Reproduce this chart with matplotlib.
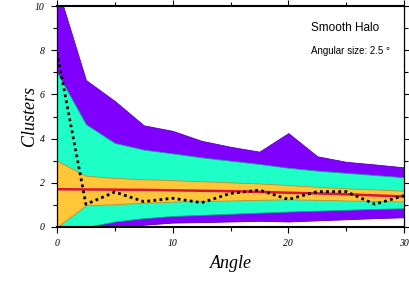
import matplotlib
matplotlib.use("Agg")
import matplotlib.pyplot as plt
from matplotlib.ticker import MultipleLocator

# angle grid and bands
angle = [0, 2.5, 5, 7.5, 10, 12.5, 15, 17.5, 20, 22.5, 25, 27.5, 30]
outer_hi = [10.9, 6.65, 5.7, 4.6, 4.35, 3.9, 3.63, 3.41, 4.25, 3.2, 2.95, 2.83, 2.7]
outer_lo = [0.0, 0.0, 0.0, 0.1, 0.2, 0.22, 0.25, 0.28, 0.25, 0.3, 0.35, 0.4, 0.44]
mid_hi = [7.0, 4.65, 3.8, 3.5, 3.33, 3.15, 3.0, 2.85, 2.68, 2.55, 2.45, 2.35, 2.25]
mid_lo = [0.0, 0.0, 0.25, 0.4, 0.5, 0.55, 0.6, 0.65, 0.7, 0.74, 0.78, 0.82, 0.85]
inner_hi = [3.0, 2.32, 2.22, 2.16, 2.12, 2.07, 2.02, 1.97, 1.9, 1.82, 1.75, 1.7, 1.64]
inner_lo = [0.0, 0.98, 1.03, 1.1, 1.15, 1.18, 1.2, 1.23, 1.25, 1.23, 1.2, 1.18, 1.15]
median = [1.71, 1.70, 1.69, 1.68, 1.66, 1.64, 1.62, 1.59, 1.55, 1.52, 1.48, 1.43, 1.38]
measured = [7.9, 1.03, 1.58, 1.15, 1.3, 1.1, 1.52, 1.67, 1.25, 1.6, 1.6, 1.03, 1.42]

serif_it = dict(family=['Liberation Serif', 'DejaVu Serif'], style='italic')

fig = plt.figure(figsize=(4.09, 3.0), dpi=100)
ax = fig.add_axes([57 / 409, 1 - 227 / 300, 347 / 409, 221 / 300])

ax.fill_between(angle, outer_lo, outer_hi, facecolor='#8000ff', edgecolor='#5a00b4', lw=0.6)
ax.fill_between(angle, mid_lo, mid_hi, facecolor='#1effc8', edgecolor='#15a88a', lw=0.6)
ax.fill_between(angle, inner_lo, inner_hi, facecolor='#ffc63a', edgecolor='#b8902a', lw=0.6)
ax.plot(angle, median, color='#dc143c', lw=1.8)
ax.plot(angle, measured, color='black', lw=2.0, ls=(0, (1, 1.2)))

ax.set_xlim(0, 30)
ax.set_ylim(0, 10)

ax.xaxis.set_major_locator(MultipleLocator(10))
ax.xaxis.set_minor_locator(MultipleLocator(5))
ax.yaxis.set_major_locator(MultipleLocator(2))
ax.yaxis.set_minor_locator(MultipleLocator(1))
ax.tick_params(which='both', direction='out', top=True, right=True, width=0.8)
ax.tick_params(which='major', length=4, pad=5)
ax.tick_params(which='minor', length=3)
for lab in ax.get_xticklabels() + ax.get_yticklabels():
    lab.set_fontsize(7)
    lab.set_fontfamily(['Liberation Serif', 'DejaVu Serif'])
    lab.set_fontstyle('italic')

for side in ['top', 'bottom']:
    ax.spines[side].set_linewidth(1.5)
for side in ['left', 'right']:
    ax.spines[side].set_linewidth(0.9)

ax.set_xlabel('Angle', fontsize=13, **serif_it)
ax.set_ylabel('Clusters', fontsize=13, **serif_it)
ax.xaxis.set_label_coords(0.5, -0.127)
ax.yaxis.set_label_coords(-0.055, 0.5)

sans = ['Liberation Sans', 'DejaVu Sans']
ax.text(0.732, 0.885, 'Smooth Halo', transform=ax.transAxes, fontsize=8.5, family=sans)
ax.text(0.732, 0.785, 'Angular size: 2.5 °', transform=ax.transAxes, fontsize=7, family=sans)

fig.savefig('out.png', dpi=100)
